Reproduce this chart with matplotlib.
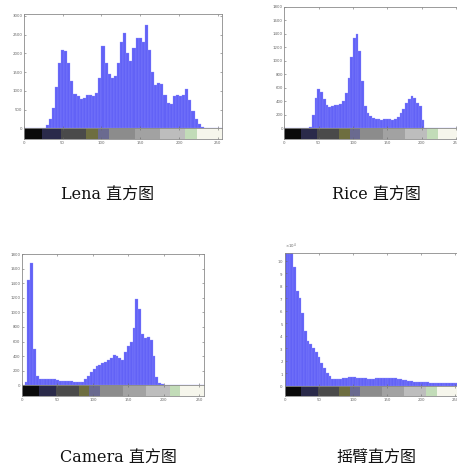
import numpy as np
import matplotlib
matplotlib.use("Agg")
import matplotlib.pyplot as plt
from matplotlib.ticker import ScalarFormatter

# Gray-level bin centres (bins of width 4 over 0..255)
levels = np.arange(2, 256, 4)

lena_counts = [
    0, 0, 0, 0, 0, 0, 20, 100, 250, 550, 1100, 1750, 2080, 2050, 1750, 1250,
    920, 850, 780, 820, 880, 900, 870, 950, 1350, 2200, 1750, 1450, 1350, 1400, 1750, 2300,
    2550, 2000, 1800, 2150, 2400, 2400, 2300, 2750, 2100, 1500, 1150, 1200, 1180, 900, 680, 640,
    850, 900, 850, 900, 1050, 750, 450, 250, 110, 30, 0, 0, 0, 0, 0, 0,
]

rice_counts = [
    0, 0, 0, 0, 0, 0, 0, 0, 0, 20, 200, 450, 580, 540, 430, 350,
    320, 330, 340, 350, 360, 410, 520, 750, 1050, 1330, 1400, 1150, 700, 330, 220, 180,
    150, 140, 135, 130, 140, 140, 135, 130, 140, 170, 220, 290, 370, 440, 480, 450,
    380, 330, 120, 0, 0, 0, 0, 0, 0, 0, 0, 0, 0, 0, 0, 0,
]

camera_counts = [
    0, 50, 1450, 1680, 500, 130, 90, 85, 85, 80, 85, 80, 70, 65, 60, 60,
    65, 60, 50, 45, 40, 45, 80, 130, 180, 220, 260, 280, 300, 320, 340, 370,
    410, 400, 370, 350, 450, 540, 600, 780, 1180, 1050, 700, 650, 660, 620, 400, 120,
    30, 15, 10, 10, 10, 10, 10, 8, 8, 8, 10, 8, 8, 8, 8, 8,
]

arm_counts = [
    120000, 140000, 130000, 95000, 76000, 70000, 58000, 44000, 36000, 33000, 30000, 27000, 23000, 18000, 14000, 10000,
    7500, 5500, 5000, 5000, 5500, 6000, 6500, 7000, 7000, 7000, 6500, 6500, 6000, 6000, 5500, 5500,
    5500, 6000, 6000, 6500, 6500, 6500, 6500, 6000, 6000, 5500, 5000, 4500, 4200, 3800, 3500, 3200,
    3000, 3000, 2800, 2800, 2600, 2500, 2400, 2200, 2200, 2000, 2000, 2000, 2000, 2000, 1800, 1800,
]

titles = ["Lena 直方图", "Rice 直方图", "Camera 直方图", "摇臂直方图"]

# Gray-level strip under each histogram: band edges and their shades
band_edges = [0, 24, 48, 80, 95, 110, 143, 175, 208, 223, 256]
band_colors = ["#0a0a0a", "#2a2a4a", "#4a4a4a", "#6e6e40", "#6a6a90",
               "#8c8c8c", "#a2a2a2", "#bdbdbd", "#c2dcb8", "#f6f6ec"]

W, H = 457, 472
fig = plt.figure(figsize=(W / 100, H / 100), dpi=100)
fig.patch.set_facecolor("white")


def add_px_axes(left, top, right, bottom):
    return fig.add_axes([left / W, 1 - bottom / H, (right - left) / W, (bottom - top) / H])


panels = [
    # counts, x of level 0, px per level, top, zero line, strip bottom, ymax, ystep, title centre
    (lena_counts, 23.8, 0.776, 14.0, 128.3, 139.0, 3050, 500, (108, 195.5)),
    (rice_counts, 284.3, 0.687, 6.7, 128.3, 139.0, 1800, 200, (376, 195.5)),
    (camera_counts, 21.7, 0.711, 254.0, 385.3, 396.0, 1800, 200, (118, 458.5)),
    (arm_counts, 285.0, 0.680, 252.7, 385.7, 396.0, 106400, 10000, (376, 458.5)),
]

frame_col = "#8a8a8a"
tick_col = "#666666"
bar_col = "#6262f6"

for (counts, x0, sx, top, zero, sbot, ymax, ystep, tpos), title in zip(panels, titles):
    right = x0 + 256 * sx
    ax = add_px_axes(x0, top, right, zero)
    ax.bar(levels, counts, width=4, color=bar_col, edgecolor="#9090ff", linewidth=0.2)
    ax.set_xlim(0, 256)
    ax.set_ylim(0, ymax)
    ax.set_xticks(np.arange(0, 251, 50))
    ax.set_yticks(np.arange(0, ymax + 1, ystep))
    ax.tick_params(axis="both", direction="in", length=1.5, width=0.4, color=tick_col,
                   labelsize=2.8, labelcolor=tick_col, top=True, right=True, pad=1)
    ax.tick_params(axis="x", labelbottom=False)
    for sp in ax.spines.values():
        sp.set_color(frame_col)
        sp.set_linewidth(0.6)
    if ymax > 50000:
        fmt = ScalarFormatter(useMathText=True)
        fmt.set_powerlimits((4, 4))
        ax.yaxis.set_major_formatter(fmt)
        ax.yaxis.get_offset_text().set_fontsize(2.8)
        ax.yaxis.get_offset_text().set_color(tick_col)

    cax = add_px_axes(x0, zero, right, sbot)
    cax.bar(band_edges[:-1], 1, width=np.diff(band_edges), align="edge",
            color=band_colors, linewidth=0)
    cax.set_xlim(0, 256)
    cax.set_ylim(0, 1)
    cax.set_yticks([])
    cax.set_xticks(np.arange(0, 251, 50))
    cax.tick_params(axis="x", direction="in", length=1.5, width=0.4, color=tick_col,
                    labelsize=2.8, labelcolor=tick_col, top=True, pad=1.5)
    for sp in cax.spines.values():
        sp.set_color(frame_col)
        sp.set_linewidth(0.6)

    fig.text(tpos[0] / W, 1 - tpos[1] / H, title, ha="center", va="center",
             fontsize=11.5, family=["DejaVu Serif", "Noto Sans CJK SC"], color="#111111")

fig.savefig("out.png", dpi=100, facecolor="white")
